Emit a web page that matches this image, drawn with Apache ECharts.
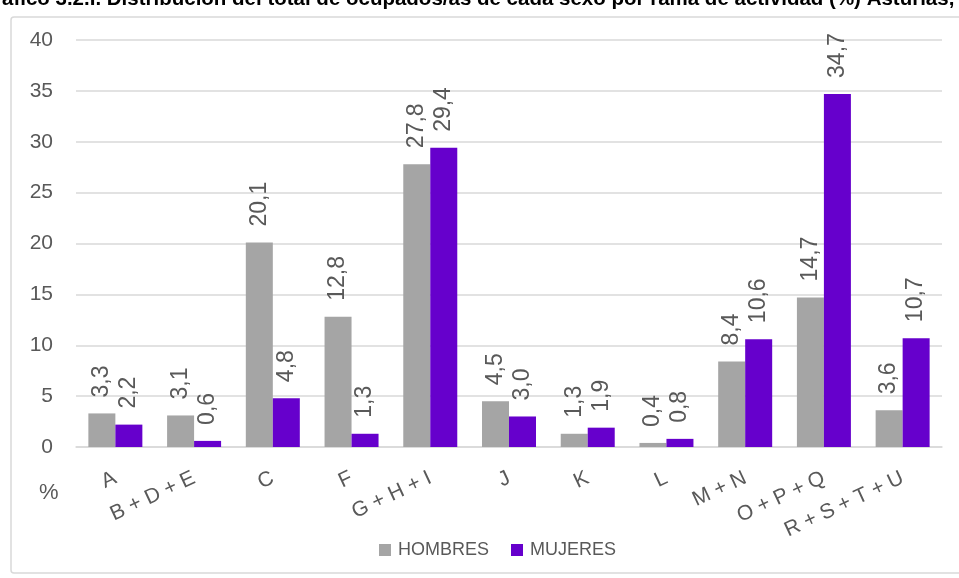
<!DOCTYPE html>
<html>
<head>
<meta charset="utf-8">
<script src="https://cdn.jsdelivr.net/npm/echarts@6/dist/echarts.min.js"></script>
<style>
html,body{margin:0;padding:0;background:#fff;}
#chart{width:959px;height:578px;}
</style>
</head>
<body>
<div id="chart"></div>
<script>
const categories = ['A', 'B + D + E', 'C', 'F', 'G + H + I', 'J', 'K', 'L', 'M + N', 'O + P + Q', 'R + S + T + U'];
const hombres = [3.3, 3.1, 20.1, 12.8, 27.8, 4.5, 1.3, 0.4, 8.4, 14.7, 3.6];
const mujeres = [2.2, 0.6, 4.8, 1.3, 29.4, 3.0, 1.9, 0.8, 10.6, 34.7, 10.7];
const yTicks = [0, 5, 10, 15, 20, 25, 30, 35, 40];
const titleText = 'ráfico 3.2.I. Distribución del total de ocupados/as de cada sexo por rama de actividad (%) Asturias,';

const FONT = '"Liberation Sans", Arial, sans-serif';
const TXT = '#595959';

const chart = echarts.init(document.getElementById('chart'), null, {renderer: 'canvas'});

const labelCfg = {
  show: true,
  position: 'top',
  rotate: 90,
  align: 'left',
  verticalAlign: 'middle',
  distance: 16,
  color: TXT,
  fontFamily: FONT,
  fontSize: 23,
  formatter: p => p.value.toFixed(1).replace('.', ',')
};

chart.setOption({
  animation: false,
  textStyle: {fontFamily: FONT},
  graphic: [
    {type: 'rect', shape: {x: 11, y: 17, width: 1000, height: 556, r: 3}, style: {fill: 'none', stroke: '#d9d9d9', lineWidth: 1.5}, z: -10},
    {type: 'text', left: -6, top: -11, style: {text: titleText, font: 'bold 20.5px ' + FONT, fill: '#000'}},
    {type: 'text', left: 39, top: 482, style: {text: '%', font: '22px ' + FONT, fill: TXT}}
  ],
  grid: {left: 76, right: 17, top: 40, bottom: 131, containLabel: false},
  legend: {
    data: ['HOMBRES', 'MUJERES'],
    bottom: 14,
    left: 374,
    itemWidth: 12,
    itemHeight: 12,
    itemGap: 22,
    icon: 'rect',
    textStyle: {color: TXT, fontSize: 18, fontFamily: FONT, padding: [0, 0, 0, 2]}
  },
  xAxis: {
    type: 'category',
    data: categories,
    axisTick: {show: false},
    axisLine: {lineStyle: {color: '#d9d9d9', width: 1.5}},
    axisLabel: {rotate: 25, color: TXT, fontSize: 21, fontFamily: FONT, margin: 30, interval: 0}
  },
  yAxis: {
    type: 'value',
    min: 0,
    max: 40,
    interval: 5,
    axisLine: {show: false},
    axisTick: {show: false},
    splitLine: {lineStyle: {color: '#d9d9d9', width: 1.5}},
    axisLabel: {color: TXT, fontSize: 21, fontFamily: FONT, margin: 23,
      formatter: v => yTicks.includes(v) ? String(v) : ''}
  },
  series: [
    {name: 'HOMBRES', type: 'bar', data: hombres, barWidth: 27, barGap: '0%', itemStyle: {color: '#a5a5a5'}, label: labelCfg},
    {name: 'MUJERES', type: 'bar', data: mujeres, barWidth: 27, barGap: '0%', itemStyle: {color: '#6600cc'}, label: labelCfg}
  ]
});
</script>
</body>
</html>
